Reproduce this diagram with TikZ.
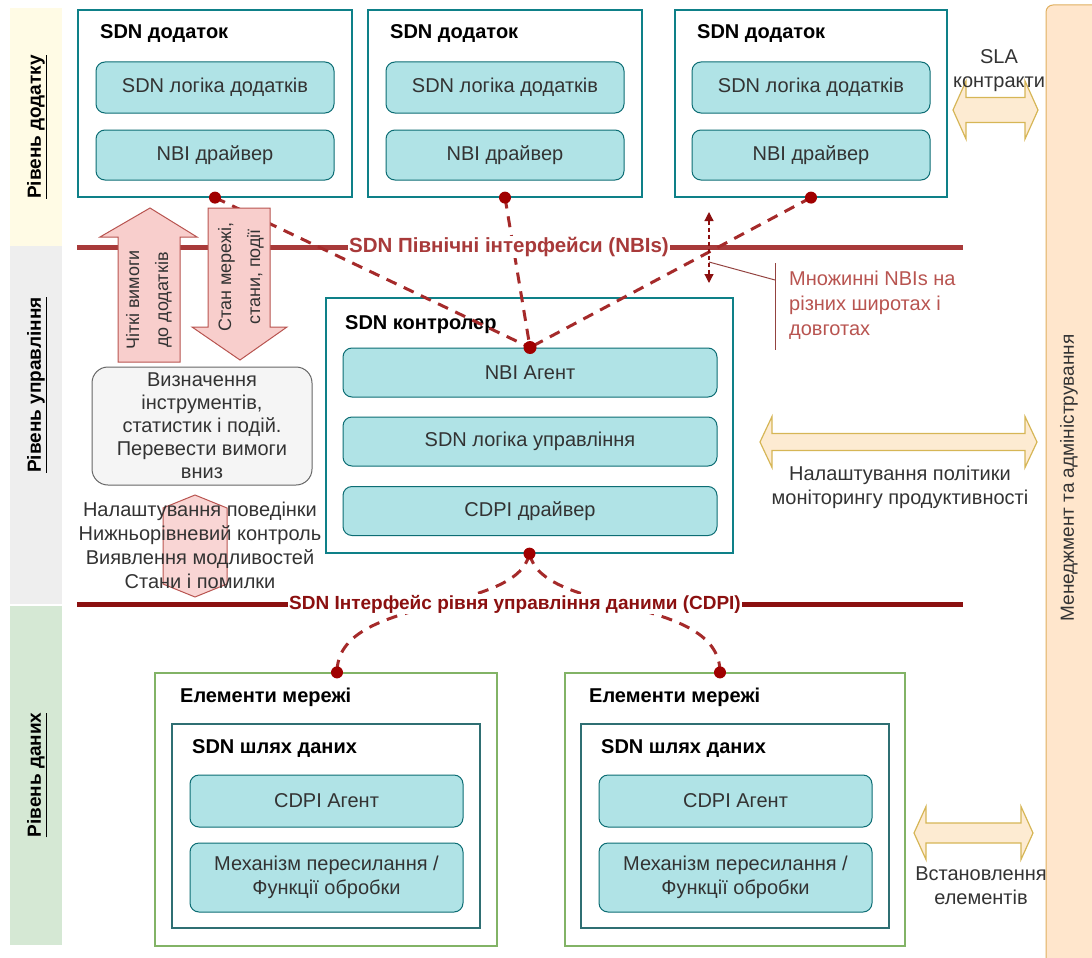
\documentclass[tikz,border=0pt]{standalone}
\usepackage{fontspec}
\setmainfont{Liberation Sans}
\usetikzlibrary{arrows.meta}
\definecolor{cTeal}{HTML}{0E8088}
\definecolor{cInner}{HTML}{B0E3E6}
\definecolor{cGreen}{HTML}{82B366}
\definecolor{cDp}{HTML}{2F6F73}
\definecolor{cBusN}{HTML}{A83A3A}
\definecolor{cBusC}{HTML}{8B1010}
\definecolor{cDash}{HTML}{A52A2A}
\definecolor{cDot}{HTML}{A00000}
\definecolor{cCall}{HTML}{B85450}
\definecolor{cPink}{HTML}{F8CECC}
\definecolor{cPinkS}{HTML}{B85450}
\definecolor{cGreyF}{HTML}{F5F5F5}
\definecolor{cGreyS}{HTML}{666666}
\definecolor{cTxt}{HTML}{333333}
\definecolor{cBandY}{HTML}{FFFBE5}
\definecolor{cBandG}{HTML}{EEEEEE}
\definecolor{cBandN}{HTML}{D5E8D4}
\definecolor{cOr}{HTML}{FFE6CC}
\definecolor{cOrS}{HTML}{E0B060}
\definecolor{cYa}{HTML}{FDEBD2}
\definecolor{cYaS}{HTML}{D6B656}
\begin{document}
\begin{tikzpicture}[x=1pt,y=-1pt,
  fnt/.style={font=\fontsize{20}{24}\selectfont},
  appbox/.style={draw=cTeal, line width=1.2pt, fill=white, inner sep=0},
  elbox/.style={draw=cGreen, line width=1.2pt, fill=white, inner sep=0},
  dpbox/.style={draw=cDp, line width=1.2pt, fill=white, inner sep=0},
  inner/.style={draw=cTeal!85!black, fill=cInner, rounded corners=9pt, line width=1pt,
    text=cTxt, fnt, align=center, inner sep=0},
  ttl/.style={anchor=west, font=\bfseries\fontsize{20}{24}\selectfont, inner sep=0},
  bus/.style={line width=5pt},
  buslab/.style={fill=white, inner sep=1pt},
  conn/.style={draw=cDash, line width=3pt, dash pattern=on 11pt off 8pt},
  dot/.style={fill=cDot},
  pinkarr/.style={draw=cPinkS, fill=cPink, line width=1pt},
  yarr/.style={draw=cYaS, fill=cYa, line width=1.2pt},
  bandlab/.style={rotate=90, font=\bfseries\fontsize{19}{23}\selectfont},
  plain/.style={text=cTxt, fnt, align=center, inner sep=0}
]
\useasboundingbox (0,0) rectangle (1092,958);

% left bands
\fill[cBandY] (10,8) rectangle (62,246);
\fill[cBandG] (10,246) rectangle (62,604);
\fill[cBandN] (10,606) rectangle (62,945);
\node[bandlab] (lb1) at (37,127) {\underline{Рівень додатку}};
\node[bandlab] (lb2) at (37,385) {\underline{Рівень управління}};
\node[bandlab] (lb3) at (37,775) {\underline{Рівень даних}};

% right band
\node[draw=cOrS, fill=cOr, rounded corners=7pt, line width=1pt, minimum width=60pt, minimum height=960pt, inner sep=0] (mgmt) at (1076,485) {};
\node[rotate=90, text=cTxt, font=\fontsize{19}{23}\selectfont] (mgmtt) at (1069,478) {Менеджмент та адміністрування};

% application boxes
\node[appbox, minimum width=274pt, minimum height=187pt] (app1) at (215,103.5) {};
\node[appbox, minimum width=274pt, minimum height=187pt] (app2) at (505,103.5) {};
\node[appbox, minimum width=272pt, minimum height=187pt] (app3) at (811,103.5) {};
\node[ttl] (t1) at (100,34) {SDN додаток};
\node[ttl] (t2) at (390,34) {SDN додаток};
\node[ttl] (t3) at (697,34) {SDN додаток};
\node[inner, minimum width=238pt, minimum height=51pt] (l1) at (215,87.5) {SDN логіка додатків};
\node[inner, minimum width=238pt, minimum height=51pt] (l2) at (505,87.5) {SDN логіка додатків};
\node[inner, minimum width=238pt, minimum height=51pt] (l3) at (811,87.5) {SDN логіка додатків};
\node[inner, minimum width=238pt, minimum height=50pt] (n1) at (215,155) {NBI драйвер};
\node[inner, minimum width=238pt, minimum height=50pt] (n2) at (505,155) {NBI драйвер};
\node[inner, minimum width=238pt, minimum height=50pt] (n3) at (811,155) {NBI драйвер};

% controller
\node[appbox, minimum width=407pt, minimum height=255pt] (ctrl) at (529.5,425.5) {};
\node[ttl] (tc) at (345,325) {SDN контролер};
\node[inner, minimum width=374pt, minimum height=49pt] (nbia) at (530,372.5) {NBI Агент};
\node[inner, minimum width=374pt, minimum height=49pt] (sdnl) at (530,441.5) {SDN логіка управління};
\node[inner, minimum width=374pt, minimum height=49pt] (cdpid) at (530,511) {CDPI драйвер};

% network elements
\node[elbox, minimum width=342pt, minimum height=273pt] (el1) at (326,809.5) {};
\node[elbox, minimum width=340pt, minimum height=273pt] (el2) at (735,809.5) {};
\node[ttl] (te1) at (180,697) {Елементи мережі};
\node[ttl] (te2) at (589,697) {Елементи мережі};
\node[dpbox, minimum width=308pt, minimum height=204pt] (dp1) at (326,826) {};
\node[dpbox, minimum width=308pt, minimum height=204pt] (dp2) at (735,826) {};
\node[ttl] (td1) at (192,749) {SDN шлях даних};
\node[ttl] (td2) at (601,749) {SDN шлях даних};
\node[inner, minimum width=273pt, minimum height=52pt] (ca1) at (326.5,801) {CDPI Агент};
\node[inner, minimum width=273pt, minimum height=52pt] (ca2) at (735.5,801) {CDPI Агент};
\node[inner, minimum width=273pt, minimum height=69pt] (m1) at (326.5,877.5) {Механізм пересилання /\\Функції обробки};
\node[inner, minimum width=273pt, minimum height=69pt] (m2) at (735.5,877.5) {Механізм пересилання /\\Функції обробки};

% NBI bus
\coordinate (nbiL) at (77,247);
\coordinate (nbiR) at (963,247);
\draw[bus, cBusN] (nbiL) -- (nbiR);

% CDPI bus
\coordinate (cdpiL) at (77,604);
\coordinate (cdpiR) at (963,604);
\draw[bus, cBusC] (cdpiL) -- (cdpiR);

% dashed connectors NBI
\draw[conn] (app1.south) -- (nbia.north);
\draw[conn] (app2.south) -- (nbia.north);
\draw[conn] (app3.south) -- (nbia.north);
\fill[dot] (app1.south) circle (6pt);
\fill[dot] (app2.south) circle (6pt);
\fill[dot] (app3.south) circle (6pt);
\fill[dot] (nbia.north) circle (6.5pt);

% dashed connectors CDPI
\coordinate (d1) at ([xshift=11pt]el1.north);
\coordinate (d2) at ([xshift=-15pt]el2.north);
\draw[conn] (ctrl.south) .. controls +(-13,62) and +(0,-78) .. (d1);
\draw[conn] (ctrl.south) .. controls +(13,62) and +(0,-78) .. (d2);
\fill[dot] (ctrl.south) circle (6pt);
\fill[dot] (d1) circle (6pt);
\fill[dot] (d2) circle (6pt);

% bus labels
\node[buslab, text=cBusN, font=\bfseries\fontsize{20.5}{24}\selectfont] (nbilab) at (509,247) {SDN Північні інтерфейси (NBIs)};
\node[buslab, text=cBusC, font=\bfseries\fontsize{19}{23}\selectfont] (cdpilab) at (515,604) {SDN Інтерфейс рівня управління даними (CDPI)};

% multiple NBIs marker and callout
\coordinate (mt) at (709,212);
\coordinate (mb) at (709,283);
\draw[cBusC, line width=1.2pt, dash pattern=on 4pt off 3pt, {Triangle[length=9pt,width=9pt]}-{Triangle[length=9pt,width=9pt]}] (mt) -- (mb);
\coordinate (cA) at (709,262);
\coordinate (cB) at (775,280);
\coordinate (cT) at (775,263);
\coordinate (cBot) at (775,350);
\draw[cCall!80!black, line width=1pt] (cA) -- (cB);
\draw[cCall!80!black, line width=1pt] (cT) -- (cBot);
\node[anchor=west, align=left, text=cCall, font=\fontsize{20}{25}\selectfont, inner sep=0] (callt) at (789,305) {Множинні NBIs на\\різних широтах і\\довготах};

% pink arrows
\draw[pinkarr] (150,208) -- (197,237) -- (180,237) -- (180,362) -- (118,362) -- (118,237) -- (100,237) -- cycle;
\draw[pinkarr] (208,208) -- (270,208) -- (270,327) -- (287,327) -- (240,360) -- (192,327) -- (208,327) -- cycle;
\node[rotate=90, align=center, text=cTxt, font=\fontsize{18}{29}\selectfont, inner sep=0] (upt) at (149,300) {Чіткі вимоги\\до додатків};
\node[rotate=90, align=center, text=cTxt, font=\fontsize{18}{29}\selectfont, inner sep=0] (dnt) at (241,277) {Стан мережі,\\стани, події};

% grey box
\node[draw=cGreyS, fill=cGreyF, rounded corners=16pt, line width=1pt, minimum width=220pt, minimum height=118pt, align=center, text=cTxt, font=\fontsize{20}{23}\selectfont, inner sep=0] (gb) at (202,426) {Визначення\\інструментів,\\статистик і подій.\\Перевести вимоги\\вниз};

% hex double arrow
\draw[pinkarr, fill opacity=0.85] (195,495) -- (227,508) -- (227,584) -- (195,597) -- (163,584) -- (163,508) -- cycle;
\node[plain] (beh) at (200,545) {Налаштування поведінки\\Нижньорівневий контроль\\Виявлення модливостей\\Стани і помилки};

% yellow double arrows
\draw[yarr] (953,110) -- (966,81) -- (966,97.5) -- (1025,97.5) -- (1025,81) -- (1038,110) -- (1025,139) -- (1025,122.5) -- (966,122.5) -- (966,139) -- cycle;
\node[plain] (slat) at (999,71) {SLA\\контракти};
\draw[yarr] (760,442) -- (772,416.5) -- (772,433.5) -- (1025,433.5) -- (1025,416.5) -- (1037,442) -- (1025,467.5) -- (1025,450.5) -- (772,450.5) -- (772,467.5) -- cycle;
\node[plain] (polt) at (900,487) {Налаштування політики\\моніторингу продуктивності};
\draw[yarr] (914,833) -- (926,806.5) -- (926,823) -- (1021,823) -- (1021,806.5) -- (1033,833) -- (1021,859.5) -- (1021,843) -- (926,843) -- (926,859.5) -- cycle;
\node[plain] (inst) at (981,886) {Встановлення\\елементів};
\end{tikzpicture}
\end{document}
